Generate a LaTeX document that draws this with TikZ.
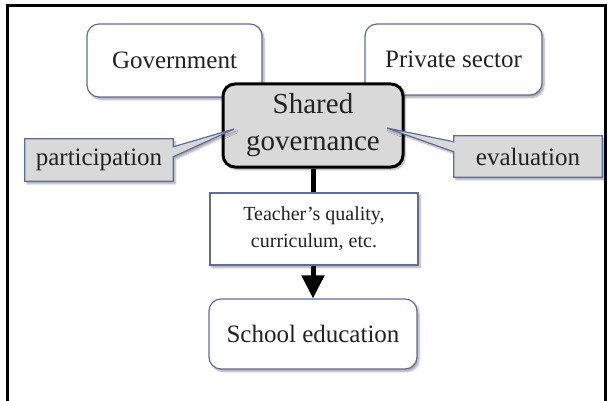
\documentclass[tikz,border=0pt]{standalone}
\usepackage{fontspec}
\setmainfont{Liberation Serif}
\usetikzlibrary{arrows.meta,shadows.blur,calc}
\definecolor{edgeblue}{HTML}{5E6D9E}
\definecolor{boxgray}{HTML}{D9D9D9}
\definecolor{inkgray}{HTML}{222222}
\tikzset{
  softshadow/.style={blur shadow={shadow xshift=2pt,shadow yshift=-2.5pt,shadow blur steps=6,shadow opacity=35}},
  roundbox/.style={draw=edgeblue,line width=1.2pt,fill=white,rounded corners=12pt,
    inner sep=0pt,align=center,text=inkgray,font=\fontsize{25}{30}\selectfont,softshadow},
  plainbox/.style={draw=edgeblue,line width=1.2pt,fill=white,inner sep=0pt,align=center,
    text=inkgray,font=\fontsize{20}{27}\selectfont,softshadow},
  hubbox/.style={draw=black,line width=3pt,fill=boxgray,rounded corners=12pt,inner sep=0pt,
    align=center,text=inkgray,font=\fontsize{29}{37}\selectfont,softshadow},
  calloutlabel/.style={inner sep=0pt,text=inkgray,font=\fontsize{25}{30}\selectfont},
  calloutshape/.style={draw=edgeblue,line width=1.2pt,fill=boxgray,line join=miter,softshadow},
  flow/.style={line width=5pt,draw=black},
  frameline/.style={line width=3pt,draw=black}
}
\begin{document}
\begin{tikzpicture}[x=1pt,y=-1pt]
\useasboundingbox (0,0) rectangle (610,401);
% figure frame (open at the bottom)
\coordinate (fb1) at (7,401);
\coordinate (ft1) at (7,6);
\coordinate (ft2) at (605,6);
\coordinate (fb2) at (605,401);
\draw[frameline] (fb1) -- (ft1) -- (ft2) -- (fb2);

% the two partners
\node[roundbox,minimum width=175pt,minimum height=73pt] (gov) at (174.5,60.5) {Government};
\node[roundbox,minimum width=177pt,minimum height=71pt] (priv) at (453.5,59.5) {Private sector};

% central hub
\node[hubbox,minimum width=180pt,minimum height=83pt] (hub) at (313,125.5) {Shared\\governance};

% callout: participation
\node[calloutlabel,minimum width=148pt,minimum height=42pt] (part) at (99,160) {};
\coordinate (parttip) at (234,129);
\draw[calloutshape] (part.north west) -- (part.north east) -- ($(part.north east)+(0,8)$)
  -- (parttip) -- ($(part.north east)+(0,18)$) -- (part.south east) -- (part.south west) -- cycle;
\node[calloutlabel] (parttext) at (part.center) {participation};

% callout: evaluation
\node[calloutlabel,minimum width=148pt,minimum height=41pt] (eval) at (528,156.5) {};
\coordinate (evaltip) at (387,128);
\draw[calloutshape] (eval.north west) -- ($(eval.north west)+(0,6)$) -- (evaltip)
  -- ($(eval.north west)+(0,16)$) -- (eval.south west) -- (eval.south east) -- (eval.north east) -- cycle;
\node[calloutlabel] (evaltext) at (eval.center) {evaluation};

% means and outcome
\node[plainbox,minimum width=208pt,minimum height=72pt] (means) at (314,229) {Teacher’s quality,\\curriculum, etc.};
\node[roundbox,minimum width=208pt,minimum height=70pt] (school) at (313,334) {School education};

% connectors
\draw[flow] (hub.south -| 313,0) -- (means.north -| 313,0);
\draw[flow,-{Triangle[width=22pt,length=23pt]}] (means.south -| 313,0) -- (school.north -| 313,0);
\end{tikzpicture}
\end{document}
